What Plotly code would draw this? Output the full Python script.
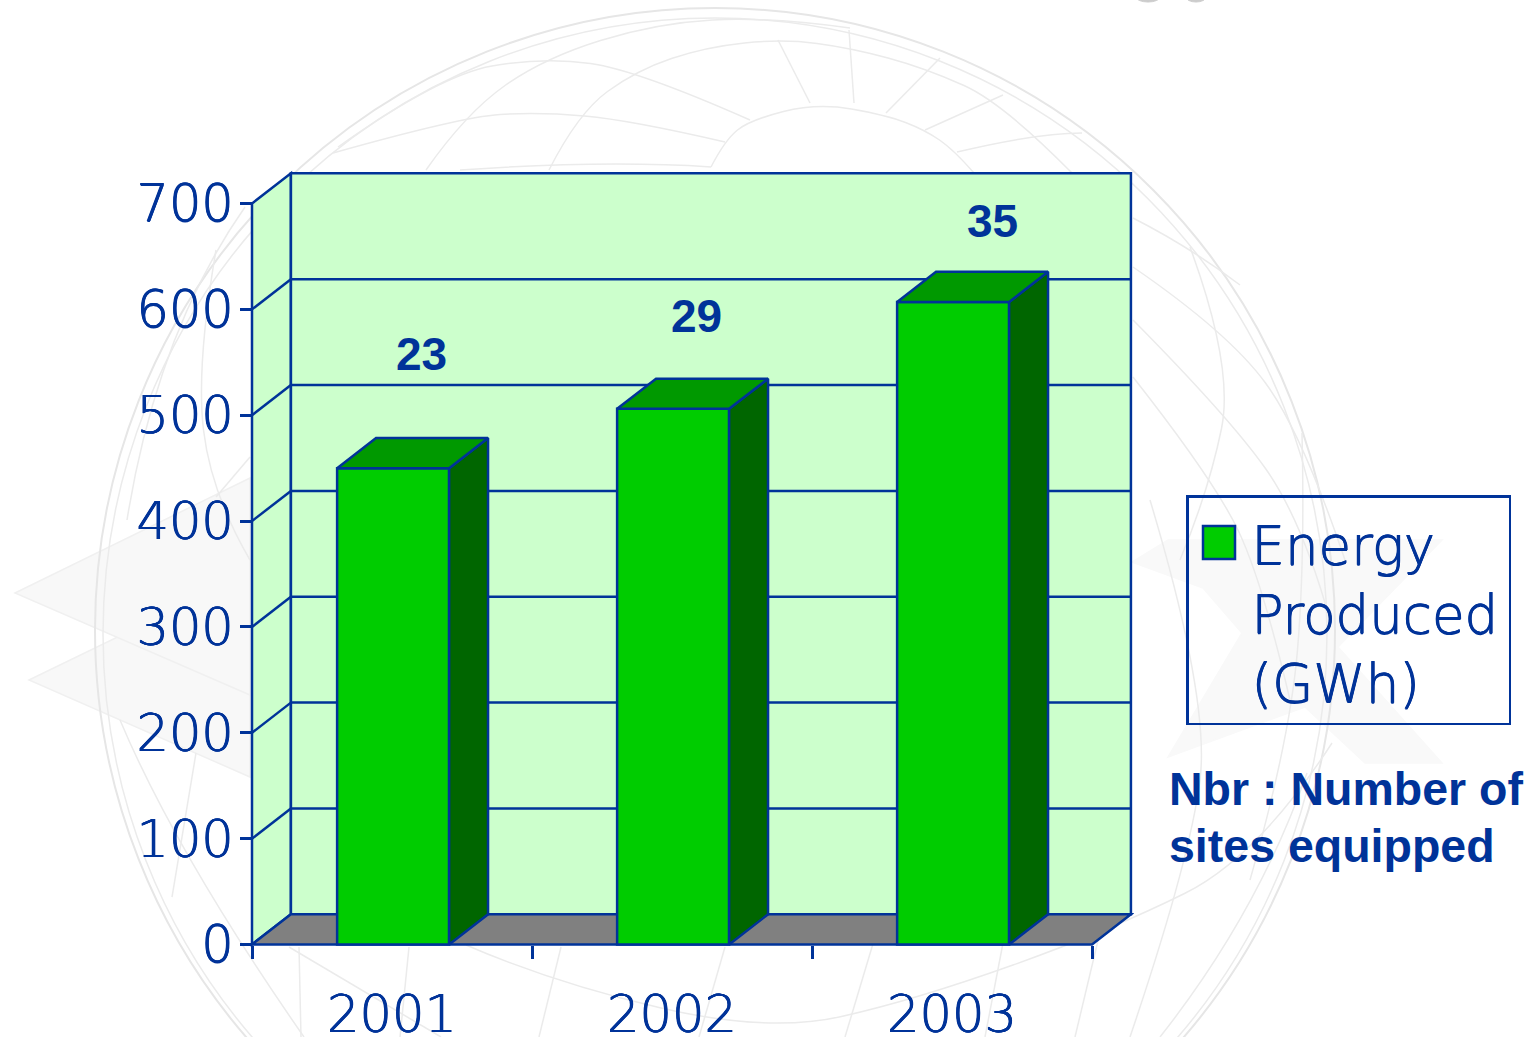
import plotly.graph_objects as go

W, H = 1535, 1037
BLUE = "#003399"
TEXT_FONT = "DejaVu Sans"
BOLD_FONT = "Liberation Sans"
TEXT_THICKEN = "0.5px 0 0 #003399, -0.5px 0 0 #003399, 0 0.4px 0 #003399"

# ---- data ----
years = ["2001", "2002", "2003"]
energy_gwh = [450, 506, 607]
sites_nbr = ["23", "29", "35"]
y_ticks = [0, 100, 200, 300, 400, 500, 600, 700]
legend_name = "Energy<br>Produced\u200a<br>(GWh)"
note_lines = ["Nbr : Number of", "sites equipped"]

# ---- geometry of the fake 3D box, in data units ----
BAR_WIDTH = 0.4
BAR_OFFSET = 0.504
DEPTH_X = 0.139
DEPTH_Y = 28.5
Y_TOP = 700
N = len(years)
PX_X = 280.0        # pixels per category
PX_Y = 741 / 700.0  # pixels per unit
X0_PX, Y0_PX = 252, 944.5
PAD = 3
dom_l, dom_r = X0_PX - PAD, X0_PX + (N + DEPTH_X) * PX_X + PAD
dom_b, dom_t = Y0_PX + PAD, Y0_PX - (Y_TOP + DEPTH_Y) * PX_Y - PAD
x_range = [(dom_l - X0_PX) / PX_X, (dom_r - X0_PX) / PX_X]
y_range = [(Y0_PX - dom_b) / PX_Y, (Y0_PX - dom_t) / PX_Y]
centers = [i + 0.5 for i in range(N)]
bar_x = [i + BAR_OFFSET for i in range(N)]
LW = 2.5
LINE = dict(color=BLUE, width=LW)


def data_poly(xs, ys, fill=None, width=LW):
    path = "M" + " L".join(f"{x},{y}" for x, y in zip(xs, ys)) + " Z"
    return dict(type="path", path=path, xref="x", yref="y", layer="below",
                fillcolor=fill or "rgba(0,0,0,0)", line=dict(color=BLUE, width=width))


def data_line(x0, y0, x1, y1, width=LW):
    return dict(type="line", x0=x0, y0=y0, x1=x1, y1=y1, xref="x", yref="y",
                layer="below", line=dict(color=BLUE, width=width))


# ---- faint watermark (globe + chevrons), in page pixels ----
WM_LINE = "#ebebeb"


def px_smooth(points):
    def p(pt):
        return f"{pt[0] / W:.5f},{1 - pt[1] / H:.5f}"
    s = "M" + p(points[0])
    if len(points) == 2:
        return s + " L" + p(points[1])
    for i in range(1, len(points) - 1):
        a, b = points[i], points[i + 1]
        end = b if i == len(points) - 2 else ((a[0] + b[0]) / 2, (a[1] + b[1]) / 2)
        s += " Q" + p(a) + " " + p(end)
    return s


def px_poly(points, fill, line="#f0f0f0"):
    s = "M" + " L".join(f"{x / W:.5f},{1 - y / H:.5f}" for x, y in points) + " Z"
    return dict(type="path", path=s, xref="paper", yref="paper", layer="below",
                fillcolor=fill, line=dict(color=line, width=1.5))


def circle(cx, cy, rx, ry, color=WM_LINE, width=1.5, fill=None):
    d = dict(type="circle", xref="paper", yref="paper", layer="below",
             x0=(cx - rx) / W, x1=(cx + rx) / W, y0=1 - (cy + ry) / H, y1=1 - (cy - ry) / H,
             line=dict(color=color, width=width))
    if fill:
        d["fillcolor"] = fill
    return d


globe_arcs = [
    [(338, 147), (440, 75), (544, 57), (637, 70), (750, 120)],
    [(333, 153), (461, 117), (539, 112), (630, 120), (725, 142)],
    [(460, 170), (603, 160), (711, 167)],
    [(426, 170), (466, 113), (544, 58), (657, 23), (768, 17), (850, 28)],
    [(549, 170), (578, 113), (637, 70), (706, 47), (783, 39), (851, 48), (925, 68), (1003, 103), (1072, 173)],
    [(711, 167), (725, 140), (750, 120), (817, 103), (886, 115), (925, 130), (954, 150), (974, 173)],
    [(778, 40), (810, 103)], [(849, 30), (854, 103)], [(940, 58), (886, 113)],
    [(1003, 95), (925, 130)], [(1082, 133), (1037, 133), (957, 152)],
    [(1133, 218), (1190, 247), (1240, 285)],
    [(1133, 267), (1229, 333), (1302, 433), (1345, 560)],
    [(1133, 320), (1229, 417), (1302, 520), (1330, 620)],
    [(1133, 377), (1214, 480), (1262, 580), (1290, 700)],
    [(1190, 247), (1234, 367), (1209, 490), (1180, 560)],
    [(1302, 433), (1305, 560), (1290, 740), (1250, 880)],
    [(216, 250), (196, 367), (211, 493), (250, 560)],
    [(127, 520), (157, 333), (245, 207)],
    [(216, 497), (250, 457)],
    [(120, 720), (176, 853), (304, 1037)],
    [(299, 947), (301, 1037)], [(409, 947), (400, 1037)],
    [(196, 753), (172, 897)],
    [(466, 945), (554, 983), (768, 1033), (915, 1000), (1111, 930), (1258, 857), (1332, 743)],
    [(561, 947), (539, 1037)], [(725, 947), (699, 1037)],
    [(289, 947), (441, 1037)],
    [(881, 917), (845, 1037)], [(1008, 917), (985, 1037)], [(1106, 907), (1075, 1037)],
    [(1307, 773), (1258, 913), (1160, 1037)],
    [(1150, 500), (1210, 700), (1190, 860), (1130, 1037)],
]

shapes = [
    px_poly([(29, 680), (132, 630), (250, 630), (250, 777)], "#f8f8f8"),
    px_poly([(15, 593), (250, 478), (250, 695)], "#f8f8f8"),
    px_poly([(1168, 540), (1442, 540), (1338, 647), (1442, 763), (1365, 763), (1305, 707),
             (1168, 757), (1242, 633), (1203, 588), (1132, 562)], "#f9f9f9", "#f9f9f9"),
    circle(715, 630, 620, 622, "#e6e6e6", 2),
    circle(715, 634, 612, 616),
    circle(1148, -3, 12, 5, "#cccccc", 1, "#cccccc"),
    circle(1196, -3, 10, 5, "#cccccc", 1, "#cccccc"),
]
for arc in globe_arcs:
    shapes.append(dict(type="path", path=px_smooth(arc), xref="paper", yref="paper",
                       layer="below", line=dict(color=WM_LINE, width=1.5)))

# ---- box: side wall, back wall, floor, grid ----
shapes.append(data_poly([0, DEPTH_X, DEPTH_X, 0], [0, DEPTH_Y, Y_TOP + DEPTH_Y, Y_TOP], "#CCFFCC"))
shapes.append(data_poly([DEPTH_X, N + DEPTH_X, N + DEPTH_X, DEPTH_X],
                        [DEPTH_Y, DEPTH_Y, Y_TOP + DEPTH_Y, Y_TOP + DEPTH_Y], "#CCFFCC"))
shapes.append(data_poly([0, N, N + DEPTH_X, DEPTH_X], [0, 0, DEPTH_Y, DEPTH_Y], "#808080"))
for t in y_ticks[1:-1]:
    shapes.append(data_line(0, t, DEPTH_X, t + DEPTH_Y))
    shapes.append(data_line(DEPTH_X, t + DEPTH_Y, N + DEPTH_X, t + DEPTH_Y))

# legend swatch (plotly caps legend marker size, so the large square is a shape)
shapes.append(dict(type="rect", xref="paper", yref="paper", layer="above",
                   x0=1203 / W, x1=1235 / W, y0=1 - 559 / H, y1=1 - 526 / H,
                   fillcolor="#00CC00", line=dict(color=BLUE, width=2.5)))

fig = go.Figure()

# bar front faces
fig.add_trace(go.Bar(x=bar_x, y=energy_gwh, width=BAR_WIDTH, showlegend=False,
                     marker=dict(color="#00CC00", line=dict(color=BLUE, width=LW)),
                     cliponaxis=False, hoverinfo="skip"))

# bar side and top faces
for c, v in zip(bar_x, energy_gwh):
    l, r = c - BAR_WIDTH / 2, c + BAR_WIDTH / 2
    fig.add_trace(go.Scatter(x=[r, r + DEPTH_X, r + DEPTH_X, r, r],
                             y=[0, DEPTH_Y, v + DEPTH_Y, v, 0],
                             mode="lines", fill="toself", fillcolor="#006600",
                             line=LINE, showlegend=False, hoverinfo="skip", cliponaxis=False))
    fig.add_trace(go.Scatter(x=[l, r, r + DEPTH_X, l + DEPTH_X, l],
                             y=[v, v, v + DEPTH_Y, v + DEPTH_Y, v],
                             mode="lines", fill="toself", fillcolor="#009900",
                             line=LINE, showlegend=False, hoverinfo="skip", cliponaxis=False))

# legend entry
fig.add_trace(go.Scatter(x=[None], y=[None], mode="markers", name=legend_name,
                         marker=dict(symbol="square", size=12, color="rgba(0,0,0,0)")))

# labels above the bars
LABEL_X = [0.604, 1.589, 2.643]
LABEL_DY = [108, 88, 76]
annotations = [
    dict(x=lx, y=v + dy, xref="x", yref="y", text=f"<b>{t}</b>", showarrow=False,
         font=dict(family=BOLD_FONT, size=46, color=BLUE))
    for lx, v, t, dy in zip(LABEL_X, energy_gwh, sites_nbr, LABEL_DY)
]
for line, ypx in zip(note_lines, [789, 846]):
    annotations.append(dict(x=1167 / W, y=1 - ypx / H, xref="paper", yref="paper", xanchor="left",
                            yanchor="middle", align="left", showarrow=False, text=f"<b>{line}</b>",
                            font=dict(family=BOLD_FONT, size=46.5, color=BLUE)))

tick_font = dict(family=TEXT_FONT, size=51, color=BLUE, weight=200, shadow=TEXT_THICKEN)
fig.update_layout(
    width=W, height=H, autosize=False,
    margin=dict(l=0, r=0, t=0, b=0, pad=0, autoexpand=False),
    paper_bgcolor="white", plot_bgcolor="rgba(0,0,0,0)",
    shapes=shapes, annotations=annotations,
    showlegend=True,
    legend=dict(x=1186 / W, y=1 - 495 / H, xanchor="left", yanchor="top",
                bgcolor="rgba(0,0,0,0)", bordercolor=BLUE, borderwidth=2.5,
                valign="top", itemwidth=53,
                title=dict(text="&nbsp;", font=dict(size=4)),
                font=dict(family=TEXT_FONT, size=53, color=BLUE, weight=200, shadow=TEXT_THICKEN)),
    xaxis=dict(domain=[dom_l / W, dom_r / W], range=x_range, anchor="free",
               position=1 - Y0_PX / H, showgrid=False, zeroline=False, showline=False,
               tickmode="array", tickvals=centers, ticktext=years, ticks="outside", ticklen=0,
               tickfont=tick_font, ticklabelstandoff=25,
               minor=dict(tickmode="array", tickvals=list(range(N + 1)), ticks="outside",
                          ticklen=13, tickwidth=2.5, tickcolor=BLUE)),
    yaxis=dict(domain=[1 - dom_b / H, 1 - dom_t / H], range=y_range, anchor="free",
               position=X0_PX / W, showgrid=False, zeroline=False, showline=False,
               tickmode="array", tickvals=y_ticks, ticks="outside", ticklen=12, tickwidth=2.5,
               tickcolor=BLUE, tickfont=tick_font, ticklabelstandoff=-4),
)
fig.write_html("out.html", config={"displayModeBar": False},
               post_script="document.body.style.margin='0';")
